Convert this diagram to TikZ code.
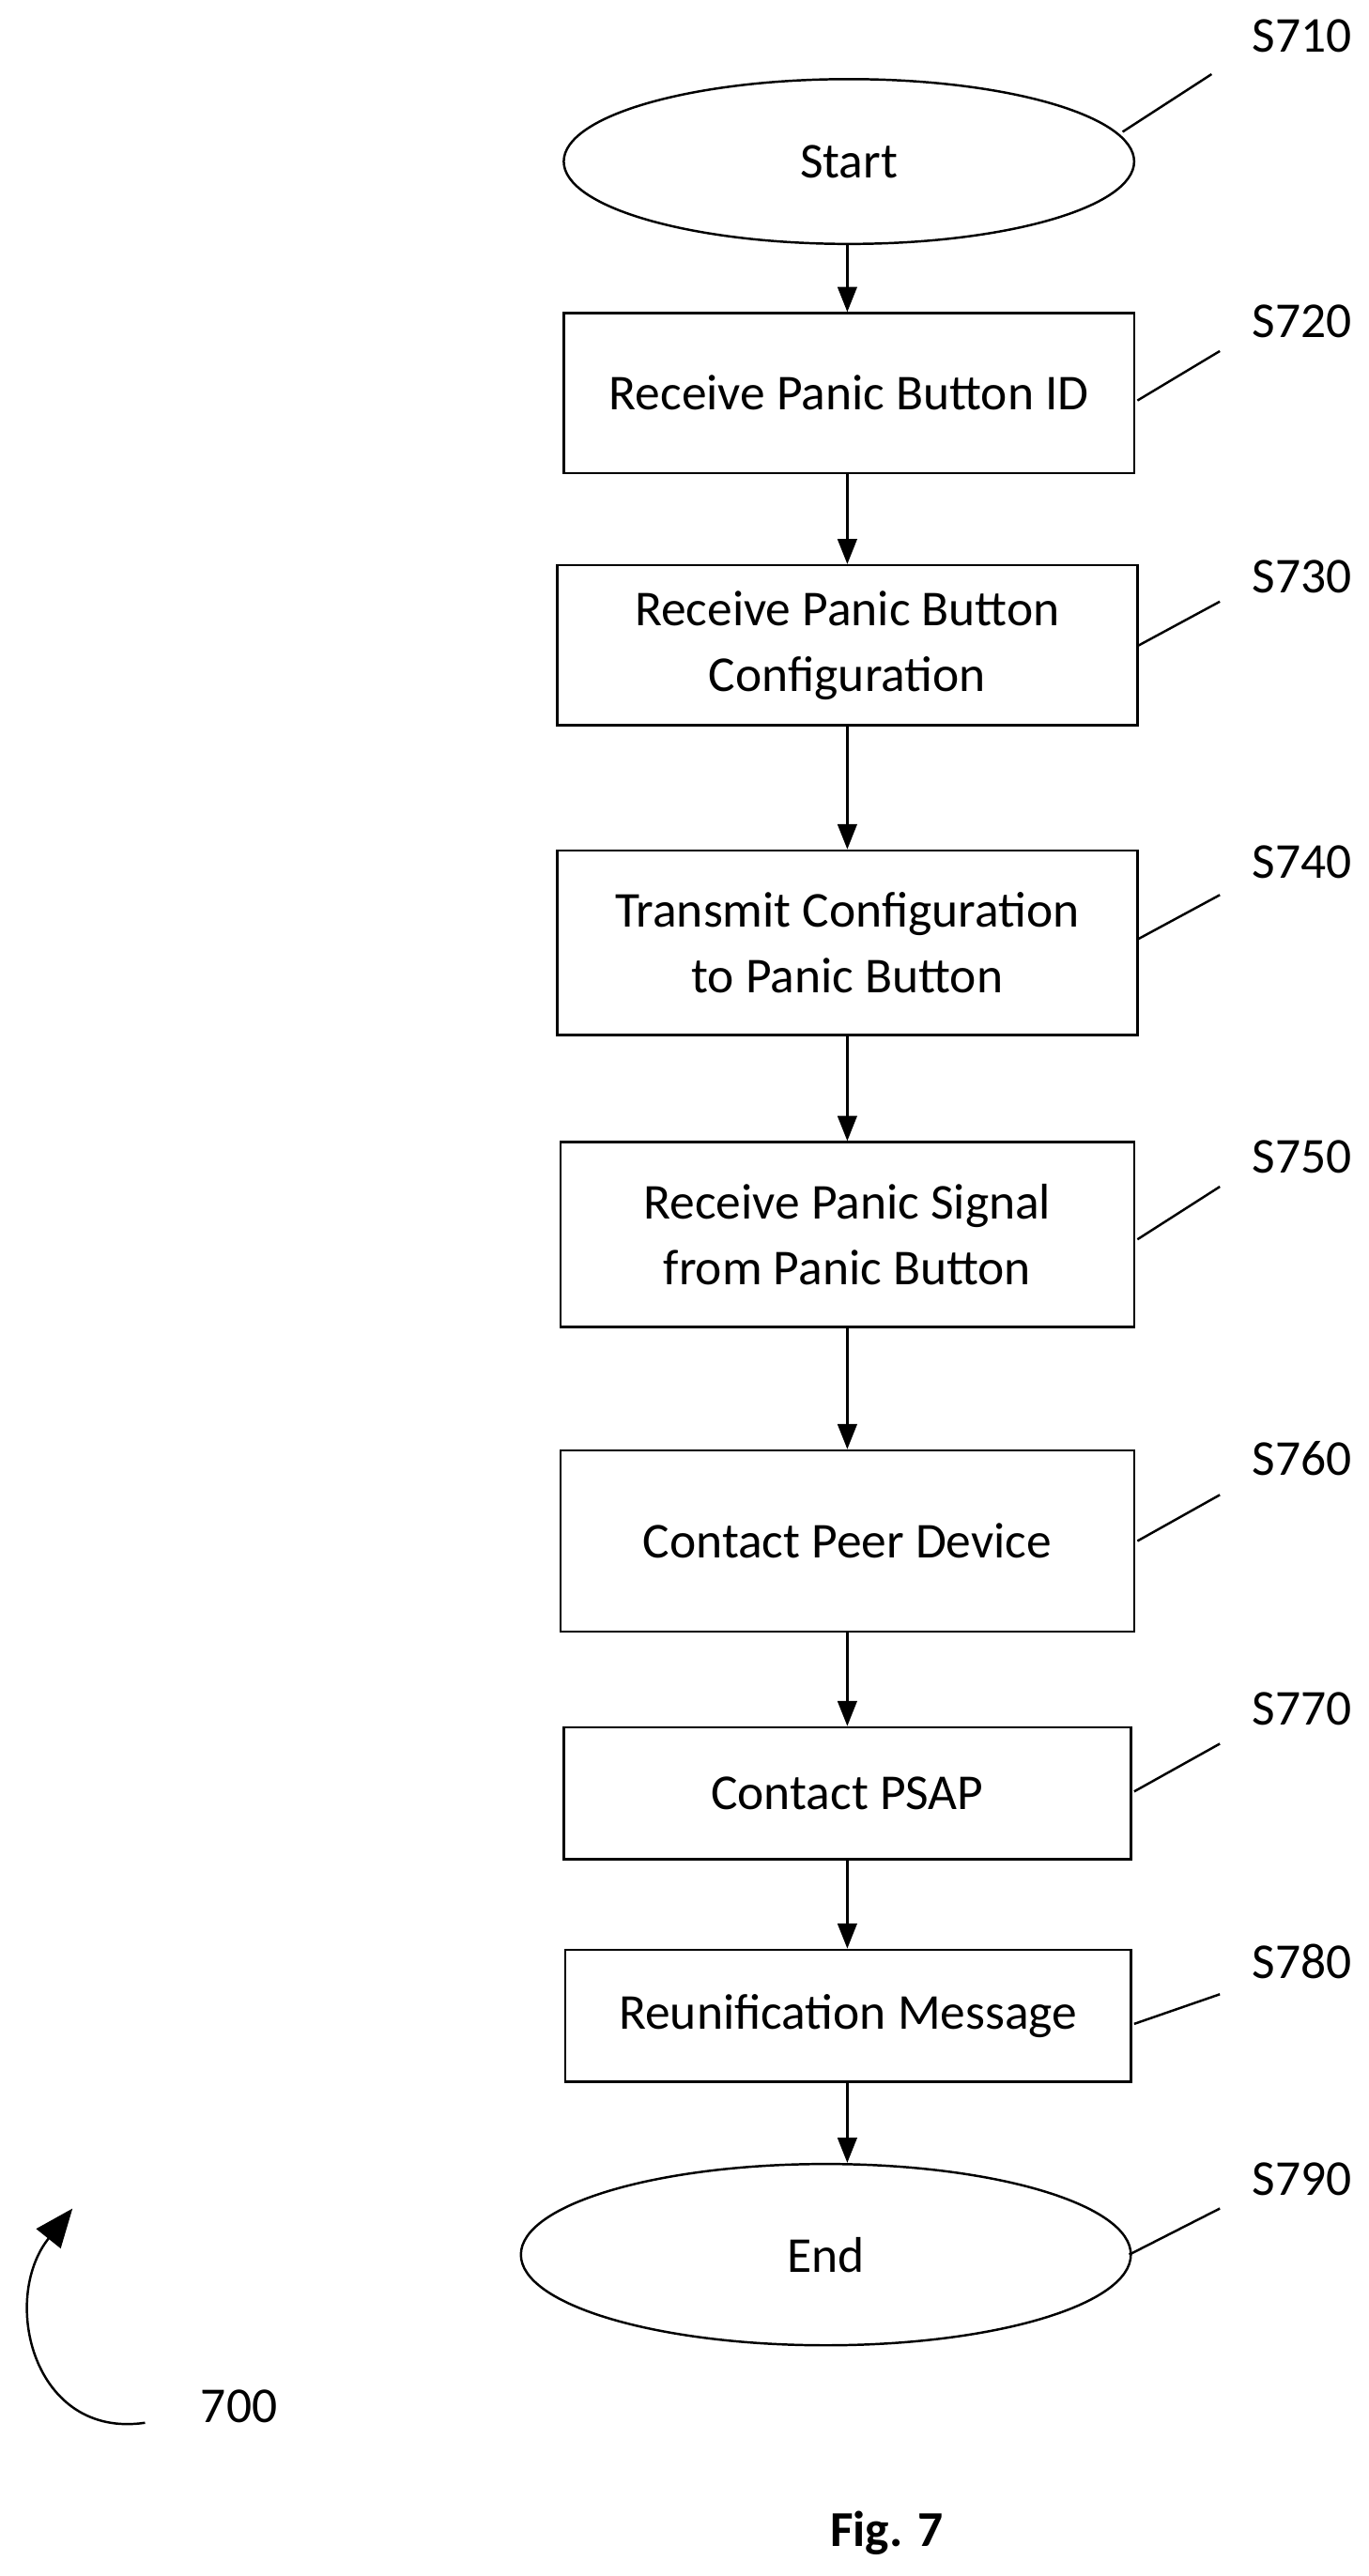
\documentclass[tikz,border=0pt]{standalone}
\usepackage{fontspec}
\setmainfont{Carlito}
\usetikzlibrary{arrows.meta,shapes.geometric}
\begin{document}
\begin{tikzpicture}[x=0.03cm,y=-0.03cm,
  box/.style={draw,line width=1.2pt,align=center,font=\fontsize{26}{34}\selectfont,inner sep=0pt},
  ell/.style={box,ellipse},
  lab/.style={font=\fontsize{26}{30}\selectfont},
  ld/.style={line width=1.2pt},
  ar/.style={line width=1.2pt,-{Triangle[length=13pt,width=10pt]}}]
\useasboundingbox (0,0) rectangle (830,1563);
\node[ell,minimum width=10.38cm,minimum height=3.0cm] (s710) at (515,98) {Start};
\node[box,minimum width=10.38cm,minimum height=2.91cm] (s720) at (515,238.5) {Receive Panic Button ID};
\node[box,minimum width=10.56cm,minimum height=2.91cm] (s730) at (514,391.5) {Receive Panic Button\\Configuration};
\node[box,minimum width=10.56cm,minimum height=3.36cm] (s740) at (514,572) {Transmit Configuration\\to Panic Button};
\node[box,minimum width=10.44cm,minimum height=3.36cm] (s750) at (514,749) {Receive Panic Signal\\from Panic Button};
\node[box,minimum width=10.44cm,minimum height=3.3cm] (s760) at (514,935) {Contact Peer Device};
\node[box,minimum width=10.32cm,minimum height=2.4cm] (s770) at (514,1088) {Contact PSAP};
\node[box,minimum width=10.29cm,minimum height=2.4cm] (s780) at (514.5,1223) {Reunification Message};
\node[ell,minimum width=11.1cm,minimum height=3.3cm] (s790) at (501,1368) {End};
\foreach \a/\b in {s710/s720,s720/s730,s730/s740,s740/s750,s750/s760,s760/s770,s770/s780}
  \draw[ar] (\a.south -| s730.center) -- (\b.north -| s730.center);
\draw[ar] (s780.south -| s730.center) -- (s790.north -| s730.center);
% labels
\node[lab] (l710) at (790,22) {S710};
\node[lab] (l720) at (790,195) {S720};
\node[lab] (l730) at (790,350) {S730};
\node[lab] (l740) at (790,523) {S740};
\node[lab] (l750) at (790,702) {S750};
\node[lab] (l760) at (790,885) {S760};
\node[lab] (l770) at (790,1037) {S770};
\node[lab] (l780) at (790,1190) {S780};
\node[lab] (l790) at (790,1322) {S790};
\coordinate (a1) at (681,80);   \coordinate (b1) at (735,45);
\coordinate (a2) at (690,243);  \coordinate (b2) at (740,213);
\coordinate (a3) at (690,392);  \coordinate (b3) at (740,365);
\coordinate (a4) at (690,570);  \coordinate (b4) at (740,543);
\coordinate (a5) at (690,752);  \coordinate (b5) at (740,720);
\coordinate (a6) at (690,935);  \coordinate (b6) at (740,907);
\coordinate (a7) at (688,1087); \coordinate (b7) at (740,1058);
\coordinate (a8) at (688,1228); \coordinate (b8) at (740,1210);
\coordinate (a9) at (685,1368); \coordinate (b9) at (740,1340);
\foreach \i in {1,...,9} \draw[ld] (a\i) -- (b\i);
% 700
\node[lab] (l700) at (145,1460) {700};
\coordinate (c1) at (88,1470);
\coordinate (c2) at (44,1340);
\draw[line width=1.2pt,-{Triangle[length=20pt,width=16pt]}] (c1) .. controls (20,1480) and (0,1395) .. (c2);
\node[font=\bfseries\fontsize{26}{30}\selectfont] (fig) at (538,1537) {Fig. 7};
\end{tikzpicture}
\end{document}
